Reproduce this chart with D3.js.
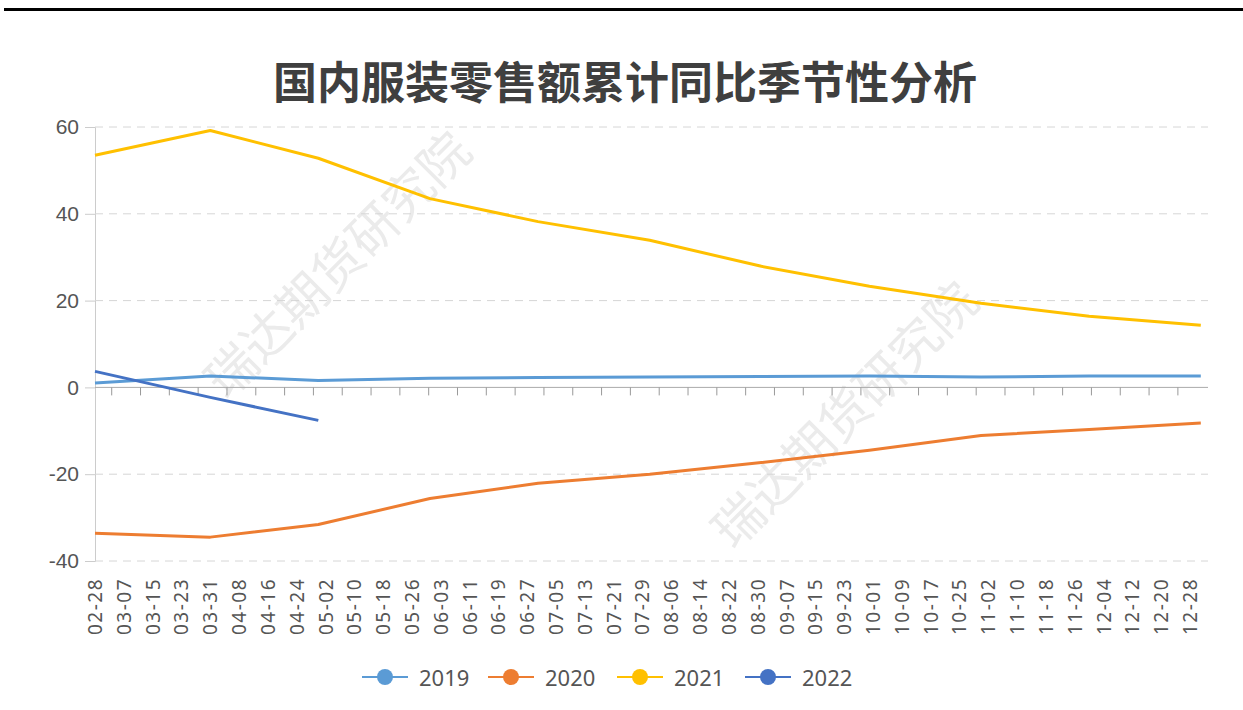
<!DOCTYPE html>
<html>
<head>
<meta charset="utf-8">
<script src="https://cdn.jsdelivr.net/npm/d3@7"></script>
<style>
	body { margin: 0; background: #fff; }
	svg { display: block; font-family: 'Noto Sans', 'Open Sans', sans-serif; }
</style>
</head>
<body>
<svg></svg>
<script>
var width = 1243;
var height = 710;
var margin = { top: 127, bottom: 149, left: 95, right: 35 };

// x axis labels, every 8 days (leap-year calendar)
var tickLabels = ['02-28', '03-07', '03-15', '03-23', '03-31', '04-08', '04-16', '04-24',
	'05-02', '05-10', '05-18', '05-26', '06-03', '06-11', '06-19', '06-27', '07-05', '07-13',
	'07-21', '07-29', '08-06', '08-14', '08-22', '08-30', '09-07', '09-15', '09-23', '10-01',
	'10-09', '10-17', '10-25', '11-02', '11-10', '11-18', '11-26', '12-04', '12-12', '12-20', '12-28'];

// monthly observation dates
var dates = ['02-28', '03-31', '04-30', '05-31', '06-30', '07-31', '08-31', '09-30', '10-31', '11-30', '12-31'];

var years = ['2019', '2020', '2021', '2022'];
var colors = ['#5b9bd5', '#ed7d31', '#ffc000', '#4472c4'];

var values2019 = [1.0, 2.6, 1.6, 2.1, 2.3, 2.4, 2.5, 2.6, 2.4, 2.6, 2.6];
var values2020 = [-33.6, -34.5, -31.6, -25.6, -22.1, -20.0, -17.3, -14.5, -11.1, -9.7, -8.2];
var values2021 = [53.5, 59.2, 52.8, 43.5, 38.2, 33.9, 27.9, 23.3, 19.4, 16.4, 14.3];
var values2022 = [3.7, -2.3, -7.6];

var yTicks = [-40, -20, 0, 20, 40, 60];

var seriesValues = [values2019, values2020, values2021, values2022];

var parse = function(s) { return d3.timeParse('%Y-%m-%d')('2020-' + s); };

var svg = d3.select('svg')
	.attr('width', width)
	.attr('height', height);

// top rule
svg.append('rect')
	.attr('x', 4).attr('y', 8)
	.attr('width', width - 4).attr('height', 3)
	.attr('fill', '#000');

svg.append('text')
	.attr('x', 625)
	.attr('y', 99)
	.attr('text-anchor', 'middle')
	.attr('font-size', 44)
	.attr('font-weight', 'bold')
	.attr('fill', '#3f3f3f')
	.attr('font-family', "'Noto Sans CJK SC', sans-serif")
	.text('国内服装零售额累计同比季节性分析');

var x = d3.scaleTime()
	.domain([parse('02-28'), d3.timeDay.offset(parse('12-31'), 2)])
	.range([margin.left, width - margin.right]);

var y = d3.scaleLinear()
	.domain([-40, 60])
	.range([height - margin.bottom, margin.top]);

// watermark
[[335, 262], [842, 412]].forEach(function(p) {
	svg.append('text')
		.attr('transform', `translate(${p[0]},${p[1]}) rotate(-45)`)
		.attr('text-anchor', 'middle')
		.attr('dominant-baseline', 'central')
		.attr('font-size', 50)
		.attr('font-family', "'Noto Sans CJK SC', sans-serif")
		.attr('fill', '#ebebeb')
		.text('瑞达期货研究院');
});

// y grid + labels
var yAxis = d3.axisLeft(y)
	.tickValues(yTicks)
	.tickFormat(function(d) { return String(d); })
	.tickSize(10)
	.tickPadding(6);

var gy = svg.append('g')
	.attr('transform', `translate(${margin.left},0)`)
	.call(yAxis);
gy.select('.domain').attr('stroke', '#ccc');
gy.selectAll('.tick line').attr('stroke', '#ccc');
gy.selectAll('.tick text')
	.attr('font-size', 21)
	.attr('fill', '#555');

svg.append('g')
	.selectAll('line')
	.data(yTicks.filter(function(d) { return d !== 0; }))
	.join('line')
	.attr('x1', margin.left)
	.attr('x2', width - margin.right)
	.attr('y1', function(d) { return y(d); })
	.attr('y2', function(d) { return y(d); })
	.attr('stroke', '#d6d6d6')
	.attr('stroke-dasharray', '8,6');

// x axis on zero
var tickDates = tickLabels.slice(0, -1).map(function(s) { return d3.timeHour.offset(parse(s), 108); });
var xAxis = d3.axisBottom(x)
	.tickValues(tickDates)
	.tickSize(8)
	.tickFormat('');

var gx = svg.append('g')
	.attr('transform', `translate(0,${y(0)})`)
	.call(xAxis);
gx.select('.domain').attr('stroke', '#aaa').attr('d', `M${margin.left},0H${width - margin.right}`);
gx.selectAll('.tick line').attr('stroke', '#999');

// x labels at bottom
svg.append('g')
	.selectAll('text')
	.data(tickLabels)
	.join('text')
	.attr('transform', function(d) { return `translate(${x(parse(d))},${height - margin.bottom + 17}) rotate(-90)`; })
	.attr('text-anchor', 'end')
	.attr('dominant-baseline', 'central')
	.attr('font-size', 19)
	.attr('letter-spacing', 1.5)
	.attr('fill', '#555')
	.text(function(d) { return d; });

var line = d3.line()
	.x(function(d) { return x(d.date); })
	.y(function(d) { return y(d.value); });

seriesValues.forEach(function(vals, i) {
	var pts = vals.map(function(v, j) { return { date: parse(dates[j]), value: v }; });
	svg.append('path')
		.attr('d', line(pts))
		.attr('fill', 'none')
		.attr('stroke', colors[i])
		.attr('stroke-width', 3)
		.attr('stroke-linejoin', 'round');
});

// legend
var legendX = [362, 488, 617, 745];
var legend = svg.append('g')
	.selectAll('g')
	.data(years)
	.join('g')
	.attr('transform', function(d, i) { return `translate(${legendX[i]},677)`; });
legend.append('line')
	.attr('x1', 0).attr('x2', 46)
	.attr('stroke', function(d, i) { return colors[i]; })
	.attr('stroke-width', 2);
legend.append('circle')
	.attr('cx', 23)
	.attr('r', 8)
	.attr('fill', function(d, i) { return colors[i]; });
legend.append('text')
	.attr('x', 57)
	.attr('dominant-baseline', 'central')
	.attr('font-size', 22)
	.attr('fill', '#555')
	.text(function(d) { return d; });
</script>
</body>
</html>
